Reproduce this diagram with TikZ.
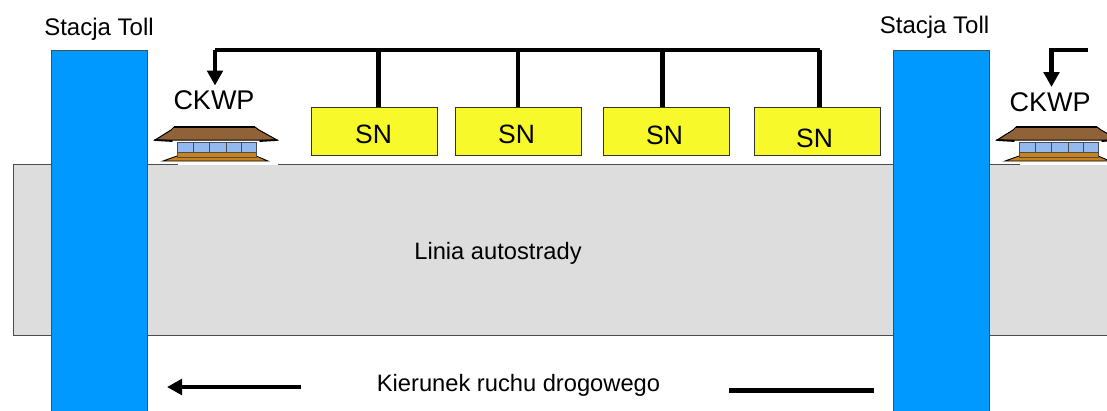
\documentclass[tikz,border=0pt]{standalone}
\usepackage{fontspec}
\setmainfont{Liberation Sans}
\usetikzlibrary{arrows.meta}
\definecolor{roadgray}{HTML}{DDDDDD}
\definecolor{tollblue}{HTML}{0099FF}
\definecolor{snyellow}{HTML}{F7F92B}
\definecolor{roofbrown}{HTML}{8F6238}
\definecolor{winblue}{HTML}{94B8F0}
\definecolor{baseorange}{HTML}{C8821E}
\tikzset{
  x=1pt,y=-1pt,
  road/.style={draw=black!70,line width=1.2pt,fill=roadgray,inner sep=0pt,anchor=north west,minimum width=1120pt,minimum height=171pt},
  toll/.style={draw=black!70,line width=1.2pt,fill=tollblue,inner sep=0pt,anchor=north west,minimum width=96pt,minimum height=380pt},
  snbox/.style={draw=black!80,line width=1.1pt,fill=snyellow,minimum width=126pt,minimum height=48pt,inner sep=0pt,anchor=north west},
  sntext/.style={font=\fontsize{26.5}{26.5}\selectfont,inner sep=0pt},
  bus/.style={line width=4.8pt},
  arrowline/.style={line width=4.8pt,-{Triangle[length=15pt,width=15.5pt]}},
  smalltext/.style={font=\fontsize{24}{28}\selectfont,inner sep=0pt},
  labeltext/.style={font=\fontsize{23.7}{28}\selectfont,inner sep=0pt},
  bigtext/.style={font=\fontsize{27}{30}\selectfont,inner sep=0pt},
  pics/station/.style={code={
    \fill[white] (24,36) rectangle (124,39.2);
    \fill[baseorange,draw=black,line width=.9pt] (9,35) -- (23,30) -- (102,30) -- (114,35) -- cycle;
    \fill[winblue,draw=black!70,line width=.8pt] (23,16.5) rectangle (102,26);
    \foreach \wx in {39,55,72,87}{\draw[black!70,line width=1pt] (\wx,16.5) -- (\wx,26);}
    \fill[baseorange,draw=black!70,line width=.6pt] (23,26) rectangle (102,31);
    \fill[roofbrown,draw=black,line width=1pt] (20,1) -- (101,1) -- (105,4) -- (123,14) -- (1,14) -- (17,4) -- cycle;
    \draw[black,line width=1.7pt] (20,1) -- (101,1);
    \draw[black,line width=1.8pt,line cap=round] (1,14) -- (18,15) (106,15) -- (123,14);
  }}
}
\begin{document}
\begin{tikzpicture}
\useasboundingbox (0,0) rectangle (1107,410);
\clip (0,0) rectangle (1107,410);
\fill[white] (0,0) rectangle (1107,410);
\node[road] (autostrada) at (12.5,164) {};
\node[toll] (tollL) at (51,50) {};
\node[toll] (tollR) at (893,50) {};
\pic at (154,126) {station};
\pic at (996,126) {station};
\node[snbox] (sn1) at (311,106.5) {};
\node[snbox] (sn2) at (455,106.5) {};
\node[snbox] (sn3) at (602.5,106.5) {};
\node[snbox] (sn4) at (754,106.5) {};
\node[sntext] at (373.5,134) {SN};
\node[sntext] at (516.5,134.5) {SN};
\node[sntext] at (664.5,135.5) {SN};
\node[sntext] at (814.5,138) {SN};
\node[smalltext] (tL) at (99,29) {Stacja Toll};
\node[smalltext] (tR) at (934.5,27) {Stacja Toll};
\node[bigtext] (ckwpL) at (214,100.5) {CKWP};
\node[bigtext] (ckwpR) at (1050,102) {CKWP};
\node[labeltext] at (498,253.5) {Linia autostrady};
\node[labeltext] at (518.5,385.5) {Kierunek ruchu drogowego};
% bus
\coordinate (busL) at (215,50);
\coordinate (busR) at (819.5,50);
\coordinate (busEnd) at (1088,50);
\coordinate (busEndL) at (1051.5,50);
\coordinate (tipL) at (215,85.5);
\coordinate (tipR) at (1051.5,87);
\draw[bus,line cap=square] (busL) -- (busR);
\draw[bus] (378.5,50) -- (sn1.north -| 378.5,0);
\draw[bus] (518,50) -- (sn2.north -| 518,0);
\draw[bus] (662.5,50) -- (sn3.north -| 662.5,0);
\draw[bus] (busR) -- (busR |- sn4.north);
\draw[arrowline] (busL) -- (tipL);
\draw[arrowline] (busEnd) -- (busEndL) -- (tipR);
\coordinate (dirA) at (301,387);
\coordinate (dirB) at (167,387);
\draw[arrowline] (dirA) -- (dirB);
\coordinate (dirC) at (874,390);
\coordinate (dirD) at (729,390);
\draw[line width=5pt] (dirC) -- (dirD);
\end{tikzpicture}
\end{document}
